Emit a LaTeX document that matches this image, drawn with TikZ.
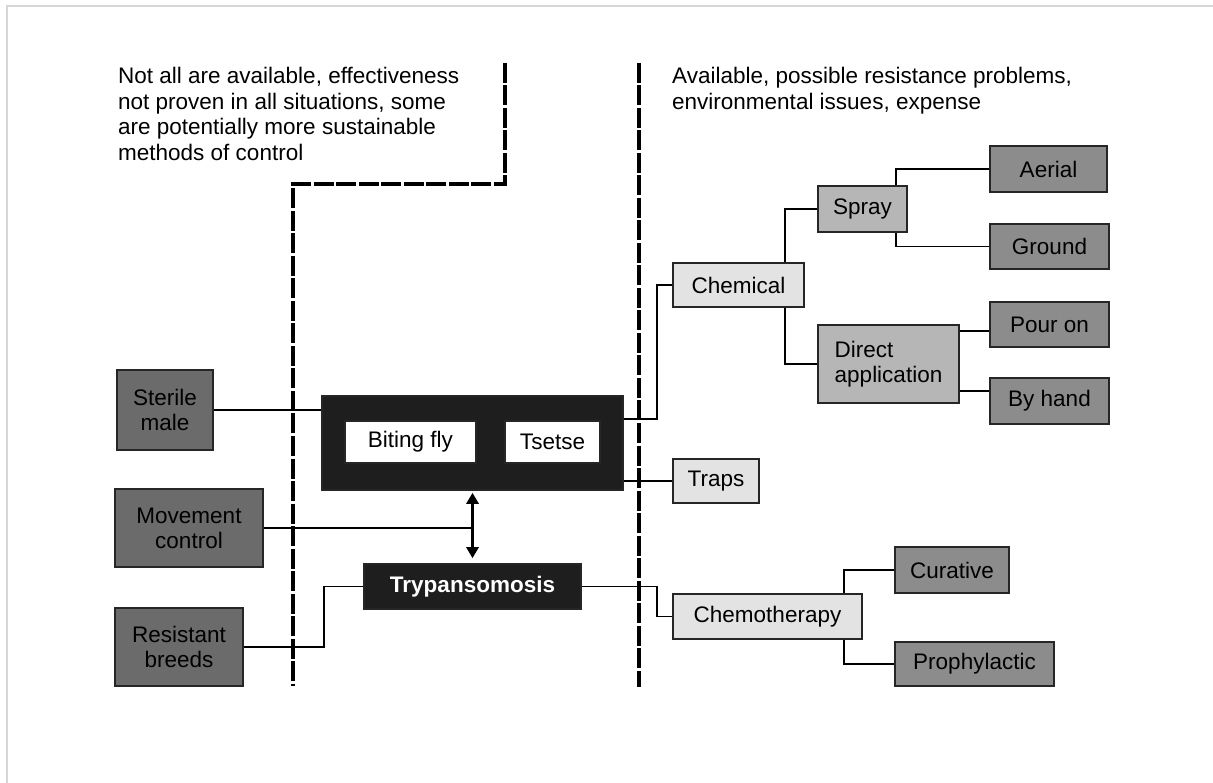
\documentclass[tikz,border=0pt]{standalone}
\usepackage{fontspec}
\setmainfont{Liberation Sans}
\usetikzlibrary{calc,arrows.meta}
\definecolor{dk}{HTML}{6B6B6B}
\definecolor{md}{HTML}{8C8C8C}
\definecolor{lt}{HTML}{B6B6B6}
\definecolor{vl}{HTML}{E3E3E3}
\definecolor{blk}{HTML}{1E1E1E}
\definecolor{framecol}{HTML}{D6D6D6}
\begin{document}
\begin{tikzpicture}[x=1pt,y=-1pt,
  box/.style={draw=black!85,line width=1.6pt,inner sep=0pt,align=center,font=\fontsize{22.5}{25}\selectfont},
  whitebox/.style={box,fill=white},
  blackbox/.style={box,fill=blk,text=white,font=\fontsize{22.5}{25}\selectfont\bfseries},
  header/.style={anchor=north west,inner sep=0pt,align=left,font=\fontsize{22.5}{25.7}\selectfont},
  conn/.style={line width=1.6pt,black},
  divider/.style={line width=3.5pt,black,dash pattern=on 20pt off 2.5pt},
  biarrow/.style={line width=2.8pt,{Triangle[length=11pt,width=12pt]}-{Triangle[length=11pt,width=12pt]}}
]
\useasboundingbox (0,0) rectangle (1213,783);
\fill[white] (0,0) rectangle (1213,783);
% light frame
\draw[framecol,line width=1.5pt] (7,783) -- (7,6) -- (1213,6);

% header texts
\node[header] (lefttext) at (118,67) {Not all are available, effectiveness\\not proven in all situations, some\\are potentially more sustainable\\methods of control};
\node[header] (righttext) at (672,67) {Available, possible resistance problems,\\environmental issues, expense};

% dividers
\draw[divider] (505,63) -- (505,184) -- (293,184) -- (293,686);
\draw[divider] (639,63) -- (639,687);

% left boxes
\node[box,fill=dk,minimum width=96pt,minimum height=80pt] (sterile) at (165,410) {Sterile\\male};
\node[box,fill=dk,minimum width=148pt,minimum height=78pt] (movement) at (189,528) {Movement\\control};
\node[box,fill=dk,minimum width=128pt,minimum height=78pt] (resistant) at (179,647) {Resistant\\breeds};

% centre
\node[box,fill=blk,minimum width=301pt,minimum height=94pt] (fly) at (472.5,443) {};
\node[whitebox,minimum width=131pt,minimum height=42pt] (biting) at (410.5,442) {Biting fly};
\node[whitebox,minimum width=95pt,minimum height=42pt] (tsetse) at (552.5,442) {Tsetse};
\node[blackbox,minimum width=217pt,minimum height=45pt] (tryp) at (472.5,586.5) {Trypansomosis};

% right boxes
\node[box,fill=vl,minimum width=131pt,minimum height=44pt] (chemical) at (738.5,285) {Chemical};
\node[box,fill=lt,minimum width=89pt,minimum height=46pt] (spray) at (862.5,209) {Spray};
\node[box,fill=lt,minimum width=141pt,minimum height=78pt,align=left] (direct) at (888.5,364) {Direct\\application};
\node[box,fill=md,minimum width=117pt,minimum height=46pt] (aerial) at (1048.5,169) {Aerial};
\node[box,fill=md,minimum width=119pt,minimum height=45pt] (ground) at (1049.5,246.5) {Ground};
\node[box,fill=md,minimum width=119pt,minimum height=45pt] (pour) at (1049.5,324.5) {Pour on};
\node[box,fill=md,minimum width=119pt,minimum height=46pt] (byhand) at (1049.5,401) {By hand};
\node[box,fill=vl,minimum width=86pt,minimum height=44pt] (traps) at (716,481) {Traps};
\node[box,fill=vl,minimum width=189pt,minimum height=45pt] (chemo) at (767.5,616.5) {Chemotherapy};
\node[box,fill=md,minimum width=114pt,minimum height=46pt] (curative) at (952,570) {Curative};
\node[box,fill=md,minimum width=159pt,minimum height=44pt] (prophy) at (974.5,664) {Prophylactic};

% connectors left
\draw[conn] (sterile.east) -- (sterile.east -| fly.west);
\draw[conn] (movement.east) -- (movement.east -| fly.south);
\draw[biarrow] ($(fly.south)+(0,2)$) -- ($(tryp.north)+(0,-5)$);
\draw[conn] (resistant.east) -- ++(80,0) |- (tryp.west);

% connectors right
\coordinate (flyA) at ($(fly.north east)+(0,24)$);
\draw[conn] (flyA) -- ++(33,0) |- (chemical.west);
\draw[conn] (traps.west -| fly.east) -- (traps.west);
\draw[conn] (tryp.east) -- ++(75,0) |- (chemo.west);
\draw[conn] ($(chemical.north east)+(-20,0)$) |- (spray.west);
\draw[conn] ($(chemical.south east)+(-20,0)$) |- (direct.west);
\draw[conn] ($(spray.north east)+(-12,0)$) |- (aerial.west);
\draw[conn] ($(spray.south east)+(-12,0)$) |- (ground.west);
\coordinate (dirA) at ($(direct.north east)+(0,7)$);
\coordinate (dirB) at ($(direct.south east)+(0,-13)$);
\draw[conn] (dirA) -- (dirA -| pour.west);
\draw[conn] (dirB) -- (dirB -| byhand.west);
\draw[conn] ($(chemo.north east)+(-19,0)$) |- (curative.west);
\draw[conn] ($(chemo.south east)+(-19,0)$) |- (prophy.west);
\end{tikzpicture}
\end{document}
